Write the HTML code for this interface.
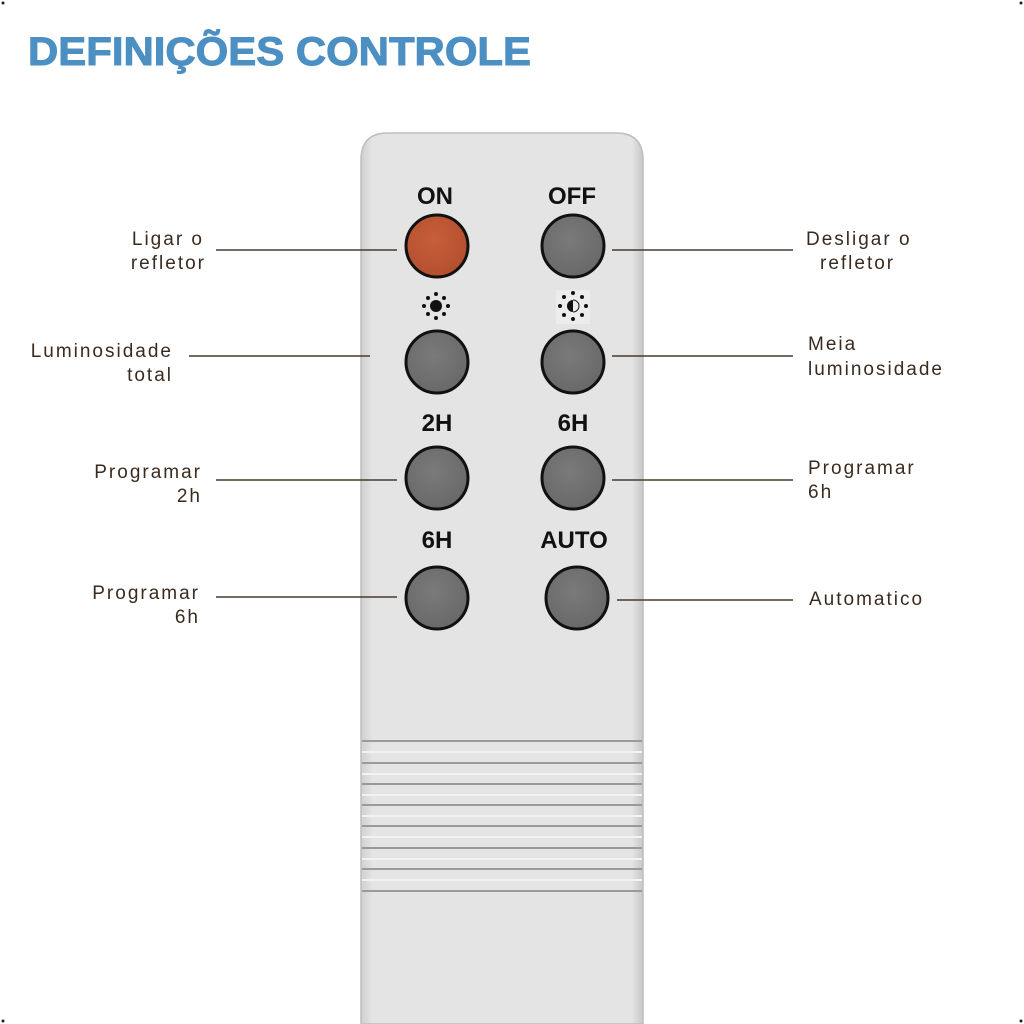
<!DOCTYPE html>
<html><head><meta charset="utf-8"><style>
html,body{margin:0;padding:0;background:#fff;}
svg{display:block}
</style></head><body>
<svg width="1024" height="1024" viewBox="0 0 1024 1024" xmlns="http://www.w3.org/2000/svg">
<defs>
<linearGradient id="body" x1="0" x2="1" y1="0" y2="0">
<stop offset="0" stop-color="#cfcfcf"/><stop offset="0.04" stop-color="#e4e4e4"/><stop offset="0.96" stop-color="#e4e4e4"/><stop offset="1" stop-color="#c8c8c8"/>
</linearGradient>
<radialGradient id="gb" cx="0.45" cy="0.4" r="0.7"><stop offset="0" stop-color="#7a7a7a"/><stop offset="1" stop-color="#666"/></radialGradient>
<radialGradient id="rb" cx="0.45" cy="0.4" r="0.7"><stop offset="0" stop-color="#c85e3a"/><stop offset="1" stop-color="#b04d2c"/></radialGradient>
</defs>
<rect width="1024" height="1024" fill="#fff"/>
<circle cx="3" cy="3" r="1.5" fill="#222"/><circle cx="1021" cy="3" r="1.5" fill="#222"/>
<circle cx="3" cy="1021" r="1.5" fill="#222"/><circle cx="1021" cy="1021" r="1.5" fill="#222"/>
<text x="28" y="65" font-family="Liberation Sans, sans-serif" font-weight="bold" font-size="40" fill="#4c8fc2" stroke="#4c8fc2" stroke-width="1" textLength="503" lengthAdjust="spacingAndGlyphs">DEFINIÇÕES CONTROLE</text>

<path d="M361 1024 V160 Q361 133 388 133 H616 Q643 133 643 160 V1024 Z" fill="url(#body)" stroke="#bdbdbd" stroke-width="1.5"/>
<g stroke="#9a9a9a" stroke-width="2">
<line x1="362" y1="741" x2="642" y2="741"/><line x1="362" y1="763" x2="642" y2="763"/>
<line x1="362" y1="784" x2="642" y2="784"/><line x1="362" y1="805" x2="642" y2="805"/>
<line x1="362" y1="826" x2="642" y2="826"/><line x1="362" y1="848" x2="642" y2="848"/>
<line x1="362" y1="869" x2="642" y2="869"/><line x1="362" y1="891" x2="642" y2="891"/>
</g>
<g stroke="#f2f2f2" stroke-width="2">
<line x1="362" y1="752" x2="642" y2="752"/><line x1="362" y1="774" x2="642" y2="774"/>
<line x1="362" y1="795" x2="642" y2="795"/><line x1="362" y1="816" x2="642" y2="816"/>
<line x1="362" y1="837" x2="642" y2="837"/><line x1="362" y1="859" x2="642" y2="859"/>
<line x1="362" y1="880" x2="642" y2="880"/>
</g>

<g font-family="Liberation Sans, sans-serif" font-weight="bold" font-size="24" fill="#111" text-anchor="middle">
<text x="435" y="204">ON</text><text x="572" y="204">OFF</text>
<text x="437" y="431">2H</text><text x="573" y="431">6H</text>
<text x="437" y="548">6H</text><text x="574" y="548">AUTO</text>
</g>
<g fill="#111">
<circle cx="436" cy="306" r="6"/>
<circle cx="436" cy="294" r="2"/><circle cx="436" cy="318" r="2"/><circle cx="424" cy="306" r="2"/><circle cx="448" cy="306" r="2"/>
<circle cx="428" cy="298" r="2"/><circle cx="444" cy="298" r="2"/><circle cx="428" cy="314" r="2"/><circle cx="444" cy="314" r="2"/>
<rect x="556" y="290" width="34" height="34" fill="#ececec"/>
<path d="M573 300 A6 6 0 0 0 573 312 Z"/><path d="M573 300 A6 6 0 0 1 573 312" fill="none" stroke="#111" stroke-width="1"/>
<circle cx="573" cy="293" r="2"/><circle cx="573" cy="319" r="2"/><circle cx="560" cy="306" r="2"/><circle cx="586" cy="306" r="2"/>
<circle cx="564" cy="297" r="2"/><circle cx="582" cy="297" r="2"/><circle cx="564" cy="315" r="2"/><circle cx="582" cy="315" r="2"/>
</g>
<g stroke="#111" stroke-width="3">
<circle cx="437" cy="246" r="31" fill="url(#rb)"/>
<circle cx="573" cy="246" r="31" fill="url(#gb)"/>
<circle cx="437" cy="362" r="31" fill="url(#gb)"/>
<circle cx="573" cy="362" r="31" fill="url(#gb)"/>
<circle cx="437" cy="478" r="31" fill="url(#gb)"/>
<circle cx="573" cy="478" r="31" fill="url(#gb)"/>
<circle cx="437" cy="598" r="31" fill="url(#gb)"/>
<circle cx="577" cy="598" r="31" fill="url(#gb)"/>
</g>

<g stroke="#4a3a2c" stroke-width="1.5">
<line x1="216" y1="250" x2="397" y2="250"/><line x1="612" y1="250" x2="793" y2="250"/>
<line x1="189" y1="356" x2="370" y2="356"/><line x1="612" y1="356" x2="793" y2="356"/>
<line x1="216" y1="480" x2="397" y2="480"/><line x1="612" y1="480" x2="793" y2="480"/>
<line x1="216" y1="597" x2="397" y2="597"/><line x1="617" y1="600" x2="793" y2="600"/>
</g>
<g font-family="Liberation Sans, sans-serif" font-size="19" fill="#3a2b1e" letter-spacing="2">
<g text-anchor="end">
<text x="204" y="245">Ligar o</text><text x="206" y="269">refletor</text>
<text x="173" y="357">Luminosidade</text><text x="173" y="381">total</text>
<text x="202" y="478">Programar</text><text x="202" y="502">2h</text>
<text x="200" y="599">Programar</text><text x="200" y="623">6h</text>
</g>
<text x="806" y="245">Desligar o</text><text x="820" y="269">refletor</text>
<text x="808" y="350">Meia</text><text x="808" y="375">luminosidade</text>
<text x="808" y="474">Programar</text><text x="808" y="498">6h</text>
<text x="809" y="605">Automatico</text>
</g>
</svg>
</body></html>
